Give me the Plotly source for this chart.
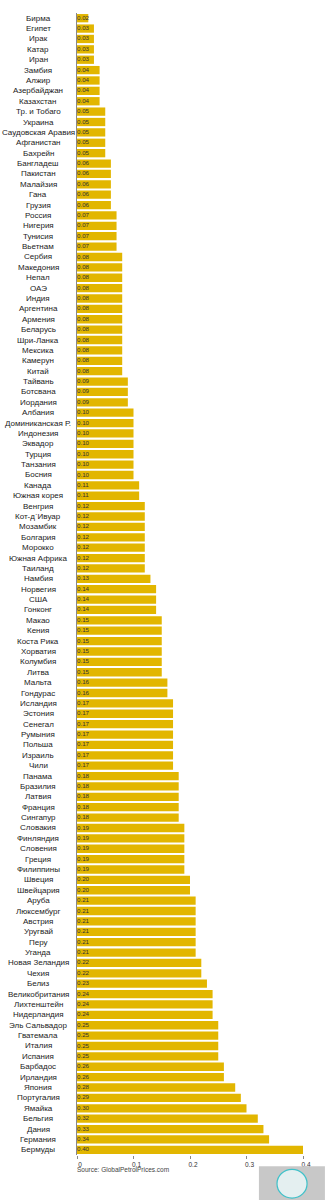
import plotly.graph_objects as go

countries = [
    "Бирма", "Египет", "Ирак", "Катар", "Иран", "Замбия", "Алжир", "Азербайджан", "Казахстан",
    "Тр. и Тобаго", "Украина", "Саудовская Аравия", "Афганистан", "Бахрейн", "Бангладеш", "Пакистан",
    "Малайзия", "Гана", "Грузия", "Россия", "Нигерия", "Тунисия", "Вьетнам", "Сербия", "Македония",
    "Непал", "ОАЭ", "Индия", "Аргентина", "Армения", "Беларусь", "Шри-Ланка", "Мексика", "Камерун",
    "Китай", "Тайвань", "Ботсвана", "Иордания", "Албания", "Доминиканская Р.", "Индонезия", "Эквадор",
    "Турция", "Танзания", "Босния", "Канада", "Южная корея", "Венгрия", "Кот-д`Ивуар", "Мозамбик",
    "Болгария", "Морокко", "Южная Африка", "Таиланд", "Намбия", "Норвегия", "США", "Гонконг", "Макао",
    "Кения", "Коста Рика", "Хорватия", "Колумбия", "Литва", "Мальта", "Гондурас", "Исландия", "Эстония",
    "Сенегал", "Румыния", "Польша", "Израиль", "Чили", "Панама", "Бразилия", "Латвия", "Франция",
    "Сингапур", "Словакия", "Финляндия", "Словения", "Греция", "Филиппины", "Швеция", "Швейцария",
    "Аруба", "Люксембург", "Австрия", "Уругвай", "Перу", "Уганда", "Новая Зеландия", "Чехия", "Белиз",
    "Великобритания", "Лихтенштейн", "Нидерландия", "Эль Сальвадор", "Гватемала", "Италия", "Испания",
    "Барбадос", "Ирландия", "Япония", "Португалия", "Ямайка", "Бельгия", "Дания", "Германия", "Бермуды",
]
prices = [
    0.02, 0.03, 0.03, 0.03, 0.03, 0.04, 0.04, 0.04, 0.04,
    0.05, 0.05, 0.05, 0.05, 0.05, 0.06, 0.06,
    0.06, 0.06, 0.06, 0.07, 0.07, 0.07, 0.07, 0.08, 0.08,
    0.08, 0.08, 0.08, 0.08, 0.08, 0.08, 0.08, 0.08, 0.08,
    0.08, 0.09, 0.09, 0.09, 0.10, 0.10, 0.10, 0.10,
    0.10, 0.10, 0.10, 0.11, 0.11, 0.12, 0.12, 0.12,
    0.12, 0.12, 0.12, 0.12, 0.13, 0.14, 0.14, 0.14, 0.15,
    0.15, 0.15, 0.15, 0.15, 0.15, 0.16, 0.16, 0.17, 0.17,
    0.17, 0.17, 0.17, 0.17, 0.17, 0.18, 0.18, 0.18, 0.18,
    0.18, 0.19, 0.19, 0.19, 0.19, 0.19, 0.20, 0.20,
    0.21, 0.21, 0.21, 0.21, 0.21, 0.21, 0.22, 0.22, 0.23,
    0.24, 0.24, 0.24, 0.25, 0.25, 0.25, 0.25,
    0.26, 0.26, 0.28, 0.29, 0.30, 0.32, 0.33, 0.34, 0.40,
]
x_ticks = [0, 0.1, 0.2, 0.3, 0.4]
x_tick_labels = ["0", "0.1", "0.2", "0.3", "0.4"]
source_text = "Source: GlobalPetrolPrices.com"

FONT = "Liberation Sans, Arial, sans-serif"
BAR_COLOR = "#E2B600"

fig = go.Figure()
fig.add_trace(go.Bar(
    x=prices, y=countries, orientation="h",
    marker=dict(color=BAR_COLOR, line=dict(width=0)),
    hoverinfo="skip",
))
fig.add_trace(go.Scatter(
    x=[0] * len(countries), y=countries, mode="text",
    text=[f"{v:.2f}" for v in prices],
    textposition="middle right",
    textfont=dict(size=6.2, color="#333333", family=FONT),
    cliponaxis=False, hoverinfo="skip",
))

for c in countries:
    fig.add_annotation(
        x=0, xref="paper", y=c, yref="y", text=c, showarrow=False,
        xanchor="center", xshift=-39, font=dict(size=8, color="#222222", family=FONT),
    )

fig.add_annotation(
    x=0, xref="paper", y=-0.0131, yref="paper", text=source_text, showarrow=False,
    xanchor="left", yanchor="middle", xshift=-2,
    font=dict(size=6.5, color="#444444", family=FONT),
)

# watermark logo box
fig.add_shape(type="rect", xref="paper", yref="paper",
              x0=0.805, x1=1.097, y0=-0.0394, y1=-0.0098,
              fillcolor="#c8c8c8", line=dict(width=0), layer="above")
fig.add_shape(type="circle", xref="paper", yref="paper",
              x0=0.885, x1=1.018, y0=-0.0377, y1=-0.0125,
              fillcolor="#e4eff0", line=dict(color="#3fc1c9", width=1.2), layer="above")

n = len(countries)
fig.update_layout(
    width=328, height=1200,
    margin=dict(l=77, r=25, t=13, b=45),
    paper_bgcolor="white", plot_bgcolor="white",
    showlegend=False, bargap=0.2,
    font=dict(family=FONT, color="#333333"),
    xaxis=dict(range=[0, 0.4], tickvals=x_ticks, ticktext=x_tick_labels,
               showgrid=False, zeroline=False, showline=False,
               ticks="outside", ticklen=3, tickcolor="#888888",
               tickfont=dict(size=6.5, color="#333333"), ticklabelshift=3, fixedrange=True),
    yaxis=dict(range=[n - 0.5, -0.5], showticklabels=False, showgrid=False,
               showline=True, linecolor="#888888", linewidth=1, ticks="", fixedrange=True),
)

fig.write_html("out.html")
